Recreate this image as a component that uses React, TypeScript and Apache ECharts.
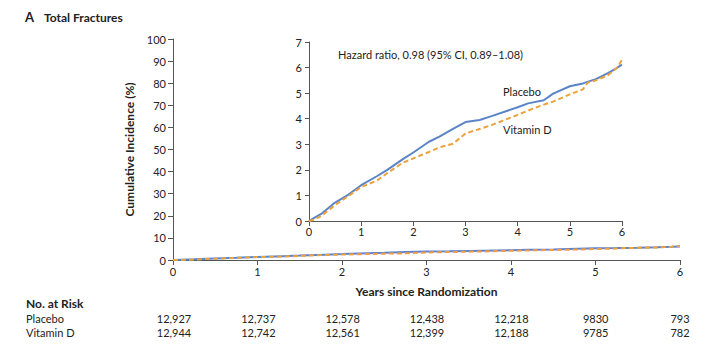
import React, { useEffect, useRef } from "react";
import * as echarts from "echarts";

const years = [0, 0.1, 0.25, 0.5, 0.75, 1, 1.3, 1.5, 1.8, 2, 2.3, 2.5, 2.76, 3, 3.27, 3.5, 4, 4.2, 4.5, 4.68, 5, 5.25, 5.35, 5.5, 5.73, 5.9, 6];
const placebo = [0, 0.12, 0.3, 0.72, 1.02, 1.4, 1.75, 2.0, 2.42, 2.68, 3.1, 3.3, 3.6, 3.87, 3.95, 4.1, 4.45, 4.6, 4.72, 4.98, 5.27, 5.38, 5.45, 5.55, 5.78, 5.98, 6.12];
const vitaminD = [0, 0.05, 0.22, 0.62, 0.97, 1.33, 1.58, 1.87, 2.28, 2.45, 2.7, 2.88, 3.02, 3.42, 3.6, 3.75, 4.15, 4.32, 4.55, 4.67, 4.95, 5.15, 5.42, 5.5, 5.7, 5.98, 6.3];

const riskTicks = [0, 1, 2, 3, 4, 5, 6];
const riskPlacebo = ["12,927", "12,737", "12,578", "12,438", "12,218", "9830", "793"];
const riskVitaminD = ["12,944", "12,742", "12,561", "12,399", "12,188", "9785", "782"];

const BLUE = "#5b84c8";
const ORANGE = "#eba23a";
const AXIS = "#555";
const TEXT = "#222";
const FONT = "Lato";

const pairs = (ys: number[]) => years.map((x, i) => [x, ys[i]]);

export default function App() {
  const ref = useRef<HTMLDivElement>(null);
  useEffect(() => {
    if (!ref.current) return;
    const chart = echarts.init(ref.current, null, { renderer: "svg" });
    const axisCommon = {
      axisLine: { show: true, lineStyle: { color: AXIS, width: 1 } },
      axisTick: { show: true, inside: false, length: 5, lineStyle: { color: AXIS } },
      splitLine: { show: false },
      axisLabel: { color: TEXT, fontFamily: FONT, fontSize: 11 },
    };
    const lineSeries = (name: string, ys: number[], idx: number, color: string, dashed: boolean) => ({
      type: "line",
      name,
      xAxisIndex: idx,
      yAxisIndex: idx,
      data: pairs(ys),
      showSymbol: false,
      symbol: "none",
      lineStyle: { color, width: 2, type: dashed ? [5, 3] : "solid" },
      z: dashed ? 3 : 2,
    });
    const riskText: any[] = [];
    riskTicks.forEach((t, i) => {
      const x = 174 + (t / 6) * 506;
      riskText.push({ type: "text", x, y: 318, style: { text: riskPlacebo[i], fill: TEXT, font: `11px ${FONT}`, textAlign: "center", textVerticalAlign: "middle" } });
      riskText.push({ type: "text", x, y: 332, style: { text: riskVitaminD[i], fill: TEXT, font: `11px ${FONT}`, textAlign: "center", textVerticalAlign: "middle" } });
    });
    chart.setOption({
      animation: false,
      backgroundColor: "#fff",
      grid: [
        { left: 173, right: 30, top: 39, bottom: 90 },
        { left: 309, width: 313, top: 42, height: 179 },
      ],
      xAxis: [
        {
          ...axisCommon, type: "value", gridIndex: 0, min: 0, max: 6, interval: 1,
          name: "Years since Randomization", nameLocation: "middle", nameGap: 25,
          nameTextStyle: { color: TEXT, fontFamily: FONT, fontWeight: "bold", fontSize: 12 },
          axisLabel: { ...axisCommon.axisLabel, margin: 6 },
        },
        {
          ...axisCommon, type: "value", gridIndex: 1, min: 0, max: 6, interval: 1,
          axisLabel: { ...axisCommon.axisLabel, margin: 5 },
        },
      ],
      yAxis: [
        {
          ...axisCommon, type: "value", gridIndex: 0, min: 0, max: 100, interval: 10,
          name: "Cumulative Incidence (%)", nameLocation: "middle", nameGap: 38,
          nameTextStyle: { color: TEXT, fontFamily: FONT, fontWeight: "bold", fontSize: 12 },
          axisLabel: { ...axisCommon.axisLabel, margin: 7 },
        },
        {
          ...axisCommon, type: "value", gridIndex: 1, min: 0, max: 7, interval: 1,
          axisTick: { ...axisCommon.axisTick, length: 4 },
          axisLabel: { ...axisCommon.axisLabel, margin: 7 },
        },
      ],
      series: [
        lineSeries("Placebo", placebo, 0, BLUE, false),
        lineSeries("Vitamin D", vitaminD, 0, ORANGE, true),
        lineSeries("Placebo", placebo, 1, BLUE, false),
        lineSeries("Vitamin D", vitaminD, 1, ORANGE, true),
      ],
      graphic: [
        { type: "text", x: 25, y: 17, style: { text: "A", fill: TEXT, font: `bold 13px ${FONT}`, textVerticalAlign: "middle" } },
        { type: "text", x: 44, y: 17, style: { text: "Total Fractures", fill: TEXT, font: `bold 12px ${FONT}`, textVerticalAlign: "middle" } },
        { type: "text", x: 338, y: 54, style: { text: "Hazard ratio, 0.98 (95% CI, 0.89\u20131.08)", fill: TEXT, font: `11px ${FONT}`, textVerticalAlign: "middle" } },
        { type: "text", x: 503, y: 91, style: { text: "Placebo", fill: TEXT, font: `11px ${FONT}`, textVerticalAlign: "middle" } },
        { type: "text", x: 503, y: 129, style: { text: "Vitamin D", fill: TEXT, font: `11px ${FONT}`, textVerticalAlign: "middle" } },
        { type: "text", x: 26, y: 303, style: { text: "No. at Risk", fill: TEXT, font: `bold 12px ${FONT}`, textVerticalAlign: "middle" } },
        { type: "text", x: 26, y: 318, style: { text: "Placebo", fill: TEXT, font: `11px ${FONT}`, textVerticalAlign: "middle" } },
        { type: "text", x: 26, y: 332, style: { text: "Vitamin D", fill: TEXT, font: `11px ${FONT}`, textVerticalAlign: "middle" } },
        ...riskText,
      ],
    });
    return () => chart.dispose();
  }, []);
  return <div ref={ref} style={{ width: 710, height: 350, position: "absolute", left: 0, top: 0 }} />;
}
